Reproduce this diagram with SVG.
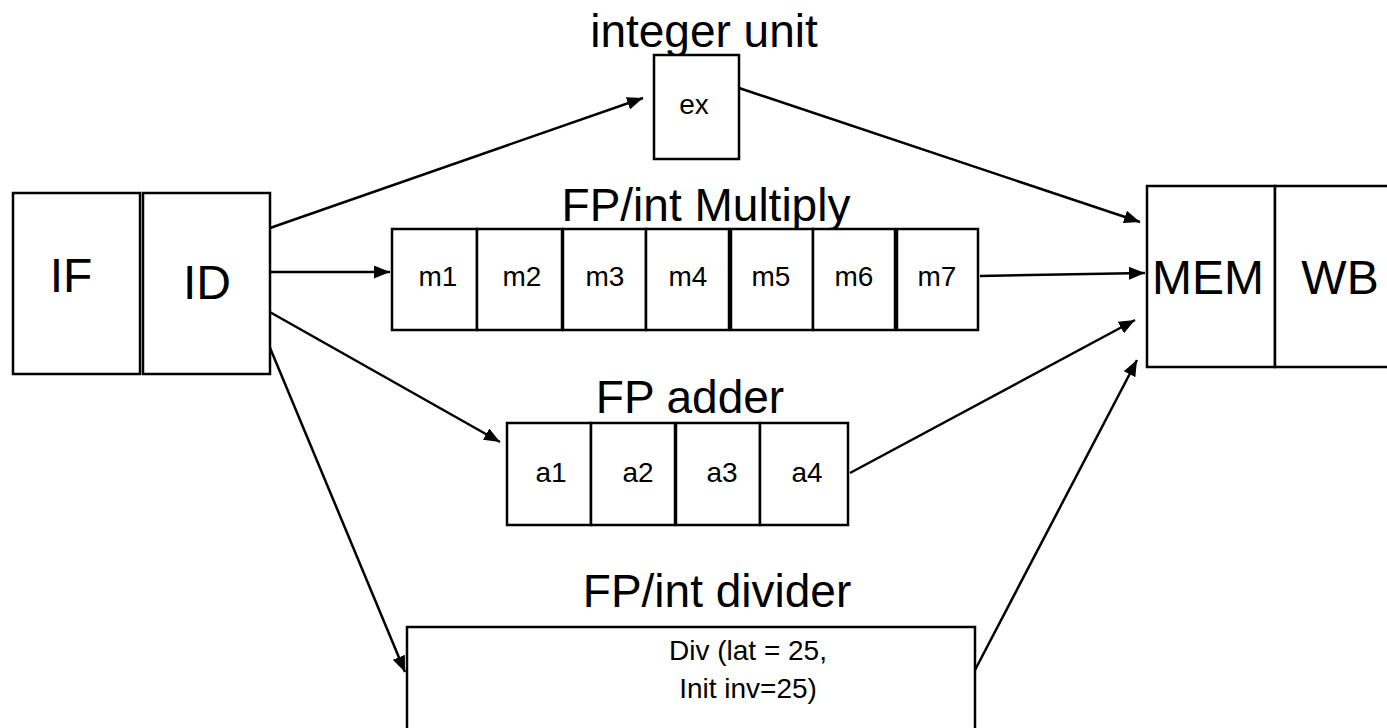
<svg xmlns="http://www.w3.org/2000/svg" width="1387" height="728" viewBox="0 0 1387 728">
  <defs>
    <marker id="arr" viewBox="0 0 16 13" refX="16" refY="6.5" markerWidth="16" markerHeight="13" markerUnits="userSpaceOnUse" orient="auto">
      <path d="M0,0 L16,6.5 L0,13 z" fill="#000"/>
    </marker>
  </defs>
  <style>
    .box { fill: #fff; stroke: #000; stroke-width: 2.5; }
    .wire { fill: none; stroke: #000; stroke-width: 2.5; marker-end: url(#arr); }
    text { font-family: "Liberation Sans", Arial, sans-serif; fill: #000; text-anchor: middle; }
    .big { font-size: 48px; }
    .title { font-size: 46px; }
    .cell { font-size: 28px; }
  </style>
  <rect width="1387" height="728" fill="#fff"/>

  <!-- connectors -->
  <g id="connectors">
    <path class="wire" d="M270,228 L643,98"/>
    <path class="wire" d="M264,272 L390,272"/>
    <path class="wire" d="M268,311 L500,442"/>
    <path class="wire" d="M268,343 L405,672"/>
    <path class="wire" d="M739,88 L1140,222"/>
    <path class="wire" d="M980,276 L1145,273"/>
    <path class="wire" d="M850,473 L1135,320"/>
    <path class="wire" d="M975,670 L1137,360"/>
  </g>

  <!-- front end -->
  <g id="if">
    <rect class="box" x="13" y="193" width="127" height="181"/>
    <text class="big" x="71" y="292">IF</text>
  </g>
  <g id="id">
    <rect class="box" x="143" y="193" width="127" height="181"/>
    <text class="big" x="207" y="299">ID</text>
  </g>

  <!-- integer unit -->
  <g id="int-unit">
    <text class="title" x="704" y="47">integer unit</text>
    <rect class="box" x="654" y="55" width="85" height="104"/>
    <text class="cell" x="694" y="114">ex</text>
  </g>

  <!-- multiplier pipeline -->
  <g id="multiply">
    <text class="title" x="706" y="221">FP/int Multiply</text>
    <rect class="box" x="392" y="229" width="85" height="101"/>
    <rect class="box" x="477" y="229" width="85" height="101"/>
    <rect class="box" x="563" y="229" width="83" height="101"/>
    <rect class="box" x="646" y="229" width="83" height="101"/>
    <rect class="box" x="731" y="229" width="82" height="101"/>
    <rect class="box" x="813" y="229" width="82" height="101"/>
    <rect class="box" x="897" y="229" width="81" height="101"/>
    <text class="cell" x="438" y="286">m1</text>
    <text class="cell" x="522" y="286">m2</text>
    <text class="cell" x="605" y="286">m3</text>
    <text class="cell" x="688" y="286">m4</text>
    <text class="cell" x="771" y="286">m5</text>
    <text class="cell" x="854" y="286">m6</text>
    <text class="cell" x="937" y="286">m7</text>
  </g>

  <!-- adder pipeline -->
  <g id="adder">
    <rect class="box" x="507" y="423" width="84" height="102"/>
    <rect class="box" x="591" y="423" width="84" height="102"/>
    <rect class="box" x="676" y="423" width="84" height="102"/>
    <rect class="box" x="760" y="423" width="88" height="102"/>
    <text class="title" x="690" y="413">FP adder</text>
    <text class="cell" x="551" y="482">a1</text>
    <text class="cell" x="638" y="482">a2</text>
    <text class="cell" x="722" y="482">a3</text>
    <text class="cell" x="807" y="482">a4</text>
  </g>

  <!-- divider -->
  <g id="divider">
    <text class="title" x="717" y="607">FP/int divider</text>
    <rect class="box" x="407" y="627" width="568" height="110"/>
    <text class="cell" x="748" y="660">Div (lat = 25,</text>
    <text class="cell" x="748" y="698">Init inv=25)</text>
  </g>

  <!-- back end -->
  <g id="mem">
    <rect class="box" x="1147" y="186" width="128" height="181"/>
    <text class="big" x="1208" y="294">MEM</text>
  </g>
  <g id="wb">
    <rect class="box" x="1275" y="186" width="130" height="181"/>
    <text class="big" x="1340" y="294">WB</text>
  </g>
</svg>
